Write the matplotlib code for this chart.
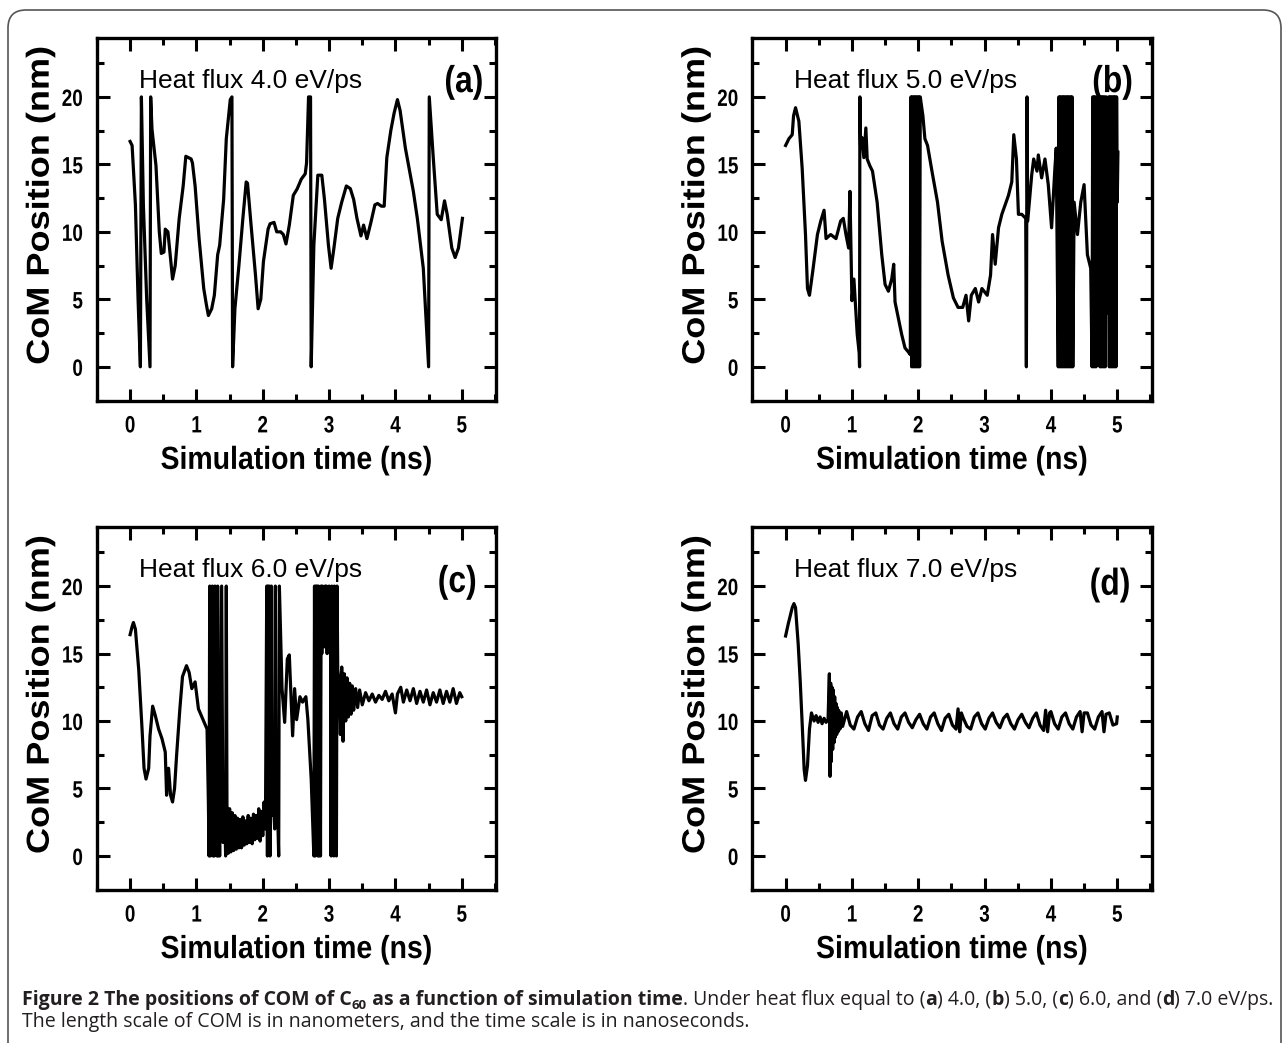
import matplotlib
matplotlib.use("Agg")
import matplotlib.pyplot as plt
from matplotlib.patches import FancyBboxPatch
from matplotlib.patheffects import AbstractPathEffect
from matplotlib.transforms import IdentityTransform, Affine2D
from matplotlib.ticker import MultipleLocator

BODY = "Liberation Sans"
CAPTION = "Open Sans"

# ---- data: (time ns, CoM position nm) ----
trace_a = [(0.00, 16.7), (0.03, 16.4), (0.08, 12.0), (0.12, 5.0), (0.155, 0.0), (0.17, 20.0),
           (0.20, 12.0), (0.25, 5.0), (0.30, 0.0), (0.31, 20.0), (0.33, 17.6), (0.39, 14.9),
           (0.44, 10.0), (0.47, 8.4), (0.51, 8.5), (0.53, 10.2), (0.57, 10.0), (0.61, 8.0),
           (0.64, 6.5), (0.68, 7.5), (0.74, 11.0), (0.80, 13.4), (0.84, 15.6), (0.88, 15.5),
           (0.92, 15.4), (0.94, 15.1), (0.98, 13.4), (1.04, 9.5), (1.11, 5.8), (1.15, 4.6),
           (1.18, 3.8), (1.23, 4.3), (1.27, 5.3), (1.32, 8.3), (1.35, 9.0), (1.41, 12.4),
           (1.45, 16.9), (1.51, 19.8), (1.535, 20.0), (1.545, 0.0), (1.58, 4.3), (1.64, 7.5),
           (1.70, 11.0), (1.75, 13.7), (1.77, 13.6), (1.82, 10.7), (1.89, 6.8), (1.93, 4.3),
           (1.97, 5.0), (2.01, 7.8), (2.08, 10.2), (2.11, 10.6), (2.17, 10.7), (2.21, 10.0),
           (2.27, 10.0), (2.31, 9.8), (2.35, 9.1), (2.40, 10.5), (2.46, 12.7), (2.52, 13.2),
           (2.58, 13.9), (2.64, 14.3), (2.66, 15.1), (2.69, 20.0), (2.72, 20.0), (2.73, 0.0),
           (2.77, 9.0), (2.83, 14.2), (2.89, 14.2), (2.93, 12.4), (2.99, 9.0), (3.03, 7.3),
           (3.07, 8.7), (3.13, 11.0), (3.19, 12.2), (3.26, 13.4), (3.32, 13.2), (3.37, 12.4),
           (3.42, 11.0), (3.48, 9.7), (3.52, 10.5), (3.57, 9.5), (3.63, 10.7), (3.69, 12.0),
           (3.73, 12.1), (3.79, 11.9), (3.83, 11.9), (3.87, 15.5), (3.93, 17.5), (3.98, 18.8),
           (4.03, 19.8), (4.07, 19.0), (4.15, 16.2), (4.27, 13.0), (4.33, 11.0), (4.42, 7.3),
           (4.50, 0.0), (4.51, 20.0), (4.57, 15.5), (4.63, 11.3), (4.69, 10.9), (4.74, 12.3),
           (4.78, 11.3), (4.85, 8.8), (4.90, 8.1), (4.95, 8.8), (5.01, 11.0)]

trace_b = [(0.00, 16.4), (0.05, 16.9), (0.10, 17.2), (0.12, 18.6), (0.15, 19.2), (0.20, 18.2),
           (0.25, 14.7), (0.30, 9.8), (0.33, 5.8), (0.36, 5.3), (0.41, 7.1), (0.48, 9.8),
           (0.53, 10.8), (0.58, 11.6), (0.61, 9.5), (0.68, 9.8), (0.76, 9.5), (0.83, 10.8),
           (0.87, 11.0), (0.91, 9.8), (0.95, 8.8), (0.97, 13.0), (1.00, 4.9), (1.03, 6.5),
           (1.08, 2.4), (1.11, 1.0), (1.115, 0.0), (1.12, 20.0), (1.13, 16.4), (1.15, 17.0),
           (1.18, 15.5), (1.21, 17.7), (1.23, 15.4), (1.27, 14.9), (1.31, 14.5), (1.38, 12.2),
           (1.45, 8.3), (1.50, 6.1), (1.55, 5.6), (1.60, 6.5), (1.63, 7.6), (1.65, 4.8),
           (1.70, 3.6), (1.75, 2.4), (1.80, 1.4), (1.85, 1.1), (1.88, 0.9),
           (1.89, 20.0), (1.90, 0.0), (1.91, 20.0), (1.92, 0.0), (1.93, 20.0), (1.94, 0.0),
           (1.95, 20.0), (1.96, 0.0), (1.97, 20.0), (1.98, 0.0), (1.99, 20.0), (2.00, 0.0),
           (2.01, 20.0), (2.02, 0.0), (2.03, 20.0),
           (2.07, 18.6), (2.10, 16.9), (2.14, 16.4), (2.21, 14.4), (2.29, 12.2), (2.36, 9.3),
           (2.45, 6.8), (2.53, 5.1), (2.60, 4.4), (2.67, 4.4), (2.72, 5.3), (2.76, 3.4),
           (2.80, 5.3), (2.86, 5.8), (2.91, 4.8), (2.96, 5.8), (3.04, 5.3), (3.09, 6.8),
           (3.12, 9.8), (3.16, 7.6), (3.21, 10.3), (3.26, 11.3), (3.31, 12.0), (3.36, 12.7),
           (3.41, 13.7), (3.44, 17.2), (3.48, 15.4), (3.51, 11.3), (3.56, 11.3), (3.62, 11.0),
           (3.63, 0.0), (3.64, 20.0), (3.65, 10.8), (3.71, 14.2), (3.74, 15.4), (3.79, 14.5),
           (3.81, 15.7), (3.86, 14.0), (3.91, 15.4), (3.96, 13.5), (4.01, 10.3), (4.06, 14.7),
           (4.08, 16.2),
           (4.11, 0.0), (4.12, 20.0), (4.13, 0.0), (4.14, 20.0), (4.15, 0.0), (4.16, 20.0),
           (4.17, 0.0), (4.18, 20.0), (4.19, 0.0), (4.20, 20.0), (4.21, 0.0), (4.22, 20.0),
           (4.23, 0.0), (4.24, 20.0), (4.25, 0.0), (4.26, 20.0), (4.27, 0.0), (4.28, 20.0),
           (4.29, 0.0), (4.30, 20.0), (4.31, 0.0), (4.32, 20.0), (4.33, 0.0),
           (4.35, 12.2), (4.40, 9.8), (4.45, 12.2), (4.50, 13.5), (4.55, 8.3), (4.60, 7.3),
           (4.62, 0.0), (4.63, 20.0), (4.64, 0.0), (4.65, 20.0), (4.66, 0.0), (4.67, 20.0),
           (4.68, 0.0), (4.695, 20.0), (4.715, 3.0), (4.73, 20.0), (4.74, 0.0), (4.75, 20.0),
           (4.76, 0.0), (4.77, 20.0), (4.78, 0.0), (4.79, 20.0), (4.80, 0.0), (4.81, 20.0),
           (4.82, 0.0), (4.835, 20.0), (4.855, 4.0), (4.87, 20.0), (4.88, 0.0), (4.89, 20.0),
           (4.90, 0.0), (4.91, 20.0), (4.92, 0.0), (4.93, 20.0), (4.94, 0.0), (4.95, 20.0),
           (4.96, 0.0), (4.97, 20.0), (4.98, 0.0), (4.99, 20.0), (5.00, 12.2), (5.01, 15.9)]

trace_c = [(0.00, 16.4), (0.03, 17.0), (0.05, 17.3), (0.08, 16.8), (0.13, 13.8), (0.18, 9.4),
           (0.21, 6.5), (0.24, 5.7), (0.28, 6.5), (0.30, 8.9), (0.34, 11.1), (0.38, 10.4),
           (0.43, 9.4), (0.48, 8.7), (0.53, 7.7), (0.55, 4.5), (0.58, 6.5), (0.61, 4.5),
           (0.64, 4.0), (0.67, 5.0), (0.70, 7.4), (0.75, 10.9), (0.79, 13.3), (0.85, 14.1),
           (0.89, 13.6), (0.93, 12.4), (0.98, 12.9), (1.03, 10.9), (1.10, 10.1), (1.16, 9.4),
           (1.18, 4.0), (1.19, 0.0), (1.20, 20.0), (1.21, 0.0), (1.22, 8.0), (1.23, 0.5),
           (1.24, 20.0), (1.25, 0.0), (1.26, 6.0), (1.27, 0.0), (1.28, 20.0), (1.29, 1.0),
           (1.30, 9.0), (1.31, 0.0), (1.32, 20.0), (1.33, 0.0), (1.34, 5.0), (1.35, 0.0),
           (1.38, 20.0), (1.40, 1.0), (1.42, 5.0), (1.44, 0.0), (1.45, 20.0),
           (1.46, 3.8), (1.48, 0.2), (1.50, 3.5), (1.52, 0.3), (1.54, 3.2), (1.56, 0.4),
           (1.58, 3.0), (1.60, 0.5), (1.62, 2.8), (1.64, 0.6), (1.66, 2.7), (1.68, 0.6),
           (1.70, 2.9), (1.72, 0.8), (1.74, 2.6), (1.76, 0.9), (1.78, 3.0), (1.80, 1.0),
           (1.82, 2.8), (1.84, 0.9), (1.86, 3.1), (1.88, 1.2), (1.90, 3.0), (1.92, 1.3),
           (1.94, 3.5), (1.96, 1.1), (1.98, 3.3), (2.00, 1.5), (2.02, 4.0), (2.04, 2.0),
           (2.06, 20.0), (2.07, 0.0), (2.08, 20.0), (2.09, 2.0), (2.10, 20.0), (2.11, 0.0),
           (2.12, 4.0), (2.13, 20.0), (2.14, 3.0), (2.16, 4.5), (2.18, 2.0), (2.19, 20.0),
           (2.20, 3.0), (2.22, 4.0), (2.24, 0.0), (2.25, 20.0),
           (2.29, 12.4), (2.33, 9.9), (2.37, 14.6), (2.40, 14.9), (2.45, 8.9), (2.48, 12.4),
           (2.51, 10.1), (2.56, 11.8), (2.60, 11.4), (2.65, 11.8), (2.68, 10.1), (2.73, 5.7),
           (2.76, 1.5), (2.77, 0.0), (2.78, 20.0), (2.79, 0.0), (2.80, 20.0), (2.81, 2.0),
           (2.82, 20.0), (2.83, 0.0), (2.84, 20.0), (2.85, 0.0), (2.86, 18.0), (2.87, 0.0),
           (2.88, 20.0), (2.89, 15.0), (2.90, 20.0), (2.91, 16.0), (2.92, 19.0), (2.93, 15.5),
           (2.94, 20.0), (2.95, 16.0), (2.96, 20.0), (2.97, 15.0), (2.98, 18.0), (2.99, 17.0),
           (3.00, 20.0), (3.01, 16.0), (3.02, 19.0), (3.03, 0.0), (3.04, 20.0), (3.05, 14.0),
           (3.06, 18.0), (3.07, 0.0), (3.08, 20.0), (3.09, 14.0), (3.10, 16.0), (3.11, 0.0),
           (3.12, 20.0), (3.13, 13.8),
           (3.15, 13.0), (3.17, 9.0), (3.19, 14.0), (3.21, 8.5), (3.23, 13.5), (3.25, 10.0),
           (3.27, 13.2), (3.29, 10.3), (3.31, 12.8), (3.33, 10.5), (3.35, 12.6), (3.37, 10.8),
           (3.40, 12.4), (3.43, 11.0), (3.46, 12.3), (3.50, 11.2), (3.55, 12.1), (3.60, 11.5),
           (3.65, 12.0), (3.70, 11.4), (3.75, 11.9), (3.80, 11.6), (3.85, 12.2), (3.90, 11.5),
           (3.95, 12.0), (4.00, 10.6), (4.03, 12.0), (4.08, 12.5), (4.12, 11.4), (4.17, 12.3),
           (4.22, 11.5), (4.27, 12.4), (4.32, 11.3), (4.37, 12.2), (4.42, 11.4), (4.47, 12.3),
           (4.52, 11.2), (4.57, 12.1), (4.62, 11.4), (4.67, 12.3), (4.72, 11.3), (4.77, 12.2),
           (4.82, 11.4), (4.87, 12.4), (4.92, 11.3), (4.97, 12.1), (5.00, 11.8)]

trace_d = [(0.00, 16.3), (0.04, 17.2), (0.075, 17.9), (0.10, 18.4), (0.126, 18.7), (0.15, 18.4),
           (0.19, 15.7), (0.22, 13.0), (0.25, 9.8), (0.28, 6.4), (0.30, 5.6), (0.33, 6.7),
           (0.36, 9.4), (0.39, 10.6), (0.43, 10.0), (0.46, 10.4), (0.49, 9.9), (0.52, 10.3),
           (0.55, 9.8), (0.58, 10.2), (0.61, 9.9), (0.64, 10.1),
           (0.66, 13.5), (0.67, 5.9), (0.68, 12.8), (0.69, 7.0), (0.70, 12.5), (0.71, 7.9),
           (0.72, 12.3), (0.73, 8.4), (0.74, 11.8), (0.75, 8.8), (0.76, 11.3), (0.77, 9.0),
           (0.78, 11.0), (0.79, 9.2), (0.80, 10.8), (0.82, 9.4), (0.84, 10.6),
           (0.86, 9.6), (0.92, 10.7), (0.975, 9.7), (1.03, 9.4), (1.085, 10.3), (1.14, 10.7),
           (1.195, 9.8), (1.25, 9.3), (1.305, 10.4), (1.36, 10.6), (1.415, 9.7), (1.47, 9.4),
           (1.525, 10.2), (1.58, 10.6), (1.635, 9.8), (1.69, 9.4), (1.745, 10.3), (1.80, 10.6),
           (1.855, 9.9), (1.91, 9.5), (1.965, 10.1), (2.02, 10.5), (2.075, 9.8), (2.13, 9.4),
           (2.185, 10.3), (2.24, 10.6), (2.295, 9.8), (2.35, 9.3), (2.405, 10.2), (2.46, 10.5),
           (2.515, 9.7), (2.57, 9.4), (2.60, 10.9), (2.625, 9.2), (2.65, 10.6), (2.68, 10.2),
           (2.735, 9.6), (2.79, 9.4), (2.845, 10.3), (2.90, 10.6), (2.955, 9.8), (3.01, 9.4),
           (3.065, 10.2), (3.12, 10.6), (3.175, 9.9), (3.23, 9.5), (3.285, 10.2), (3.34, 10.5),
           (3.395, 9.8), (3.45, 9.4), (3.505, 10.1), (3.56, 10.5), (3.615, 9.9), (3.67, 9.5),
           (3.725, 10.2), (3.78, 10.6), (3.835, 9.7), (3.89, 9.3), (3.92, 10.8), (3.95, 9.2),
           (3.98, 10.6), (4.00, 10.7), (4.055, 9.8), (4.11, 9.4), (4.165, 10.3), (4.22, 10.6),
           (4.275, 9.8), (4.33, 9.4), (4.385, 10.3), (4.44, 10.7), (4.47, 9.2), (4.50, 10.6),
           (4.55, 10.6), (4.605, 9.7), (4.66, 9.4), (4.715, 10.3), (4.77, 10.7), (4.80, 9.2),
           (4.83, 10.5), (4.88, 10.6), (4.935, 9.7), (4.99, 9.8), (5.00, 10.3)]

flux_labels = ["Heat flux 4.0 eV/ps", "Heat flux 5.0 eV/ps", "Heat flux 6.0 eV/ps", "Heat flux 7.0 eV/ps"]
panel_tags = ["(a)", "(b)", "(c)", "(d)"]
traces = [trace_a, trace_b, trace_c, trace_d]


class Squeeze(AbstractPathEffect):
    """Narrow text horizontally (the figure uses condensed bold type)."""

    def __init__(self, sx, anchor="center"):
        super().__init__()
        self.sx = sx
        self.anchor = anchor

    def draw_path(self, renderer, gc, tpath, affine, rgbFace=None):
        ext = tpath.get_extents(affine)
        if self.anchor == "right":
            cx = ext.x1
        else:
            cx = 0.5 * (ext.x0 + ext.x1)
        tr = affine + Affine2D().translate(-cx, 0).scale(self.sx, 1).translate(cx, 0)
        renderer.draw_path(gc, tpath, tr, rgbFace)


W, H = 1284, 1043
plt.rcParams["font.family"] = BODY
plt.rcParams["font.weight"] = "bold"

fig = plt.figure(figsize=(W / 100, H / 100), dpi=100)

rects = [[0.0755, 0.616, 0.311, 0.348], [0.586, 0.616, 0.311, 0.348],
         [0.0755, 0.147, 0.311, 0.348], [0.586, 0.147, 0.311, 0.348]]
tag_pos = [(5.33, 21.1), (5.24, 21.1), (5.23, 20.3), (5.20, 20.1)]

for i in range(4):
    ax = fig.add_axes(rects[i])
    t, y = zip(*traces[i])
    ax.plot(t, y, color="black", lw=2.3)
    ax.set_xlim(-0.5, 5.52)
    ax.set_ylim(-2.5, 24.4)
    ax.xaxis.set_major_locator(MultipleLocator(1))
    ax.xaxis.set_minor_locator(MultipleLocator(0.5))
    ax.yaxis.set_major_locator(MultipleLocator(5))
    ax.yaxis.set_minor_locator(MultipleLocator(2.5))
    ax.tick_params(which="both", direction="in", top=True, right=True, width=2.2, labelsize=17)
    ax.tick_params(which="major", length=9)
    ax.tick_params(which="minor", length=5)
    ax.tick_params(axis="x", which="major", pad=10)
    ax.tick_params(axis="y", which="major", pad=10)
    for s in ax.spines.values():
        s.set_linewidth(2.4)
    for lab in ax.get_xticklabels():
        lab.set_path_effects([Squeeze(0.8, "center")])
    for lab in ax.get_yticklabels():
        lab.set_path_effects([Squeeze(0.8, "right")])

    xl = ax.set_xlabel("Simulation time (ns)", fontsize=23, fontweight="bold")
    xl.set_path_effects([Squeeze(0.89)])
    ax.xaxis.set_label_coords(0.5, -0.125)
    yl = ax.set_ylabel("CoM Position (nm)", fontsize=26, fontweight="bold")
    yl.set_path_effects([Squeeze(0.88)])
    ax.yaxis.set_label_coords(-0.098, 0.537)

    ax.text(0.13, 21.2, flux_labels[i], fontsize=19, fontweight="normal",
            ha="left", va="center")
    tg = ax.text(tag_pos[i][0], tag_pos[i][1], panel_tags[i], fontsize=27, fontweight="bold",
                 ha="right", va="center")
    tg.set_path_effects([Squeeze(0.85, "right")])

# rounded frame round the whole figure
frame = FancyBboxPatch((8, -40), 1273, 1073, boxstyle="round,pad=0,rounding_size=18",
                       transform=IdentityTransform(), fill=False, ec="#555555", lw=1.2)
fig.add_artist(frame)

# caption, written piece by piece so bold and regular parts can mix
cap_line1 = [("Figure 2 The positions of COM of C", "bold", 1.0, 0),
             ("60", "bold", 0.68, -4),
             (" as a function of simulation time", "bold", 1.0, 0),
             (". Under heat flux equal to (", "normal", 1.0, 0),
             ("a", "bold", 1.0, 0), (") 4.0, (", "normal", 1.0, 0),
             ("b", "bold", 1.0, 0), (") 5.0, (", "normal", 1.0, 0),
             ("c", "bold", 1.0, 0), (") 6.0, and (", "normal", 1.0, 0),
             ("d", "bold", 1.0, 0), (") 7.0 eV/ps.", "normal", 1.0, 0)]
cap_line2 = [("The length scale of COM is in nanometers, and the time scale is in nanoseconds.",
              "normal", 1.0, 0)]

renderer = fig.canvas.get_renderer()


def put_run(pieces, x0, ybase, size):
    x = x0
    made = []
    for text, weight, scale, dy in pieces:
        tx = fig.text(x / W, (ybase + dy) / H, text, fontsize=size * scale, fontweight=weight,
                      family=CAPTION, color="#231f20", ha="left", va="baseline")
        x = tx.get_window_extent(renderer).x1
        made.append(tx)
    return x, made


end, tmp = put_run(cap_line1, 22, 36, 12)
for tx in tmp:
    tx.remove()
cap_size = 12 * (1274 - 22) / (end - 22)
put_run(cap_line1, 22, H - 1005, cap_size)
put_run(cap_line2, 22, H - 1027, cap_size)

fig.savefig("out.png", dpi=100)
